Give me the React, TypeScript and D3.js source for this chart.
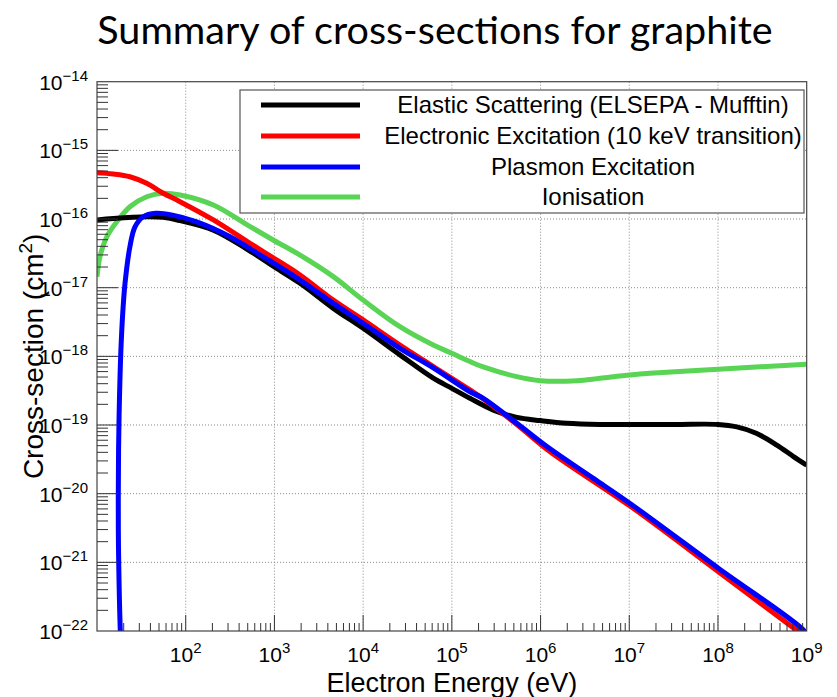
import React from "react";
import * as d3 from "d3";

const W = 837;
const H = 697;

const titleText = "Summary of cross-sections for graphite";
const xTitle = "Electron Energy (eV)";
const yTitle = "Cross-section (cm";

const xDecades = [10, 100, 1e3, 1e4, 1e5, 1e6, 1e7, 1e8, 1e9];
const xTickLabels = ["", "2", "3", "4", "5", "6", "7", "8", "9"];
const yDecades = [1e-22, 1e-21, 1e-20, 1e-19, 1e-18, 1e-17, 1e-16, 1e-15, 1e-14];
const yTickLabels = ["−22", "−21", "−20", "−19", "−18", "−17", "−16", "−15", "−14"];

const seriesNames = [
  "Elastic Scattering (ELSEPA - Mufftin)",
  "Electronic Excitation (10 keV transition)",
  "Plasmon Excitation",
  "Ionisation",
];
const seriesColors = ["#000000", "#ff0000", "#0000ff", "#59d454"];

// Elastic scattering (black)
const energyElastic = [10, 15.3, 36.3, 55.8, 86.3, 205, 488, 989, 1945, 4613, 1.0e4, 2.6e4, 6.18e4, 1.0e5, 1.6e5, 2.94e5, 5.4e5, 1.0e6, 1.97e6, 4.7e6, 3.2e7, 1.0e8, 1.63e8, 2.7e8, 4.6e8, 7.1e8, 1.0e9];
const sigmaElastic = [9.7e-17, 1.02e-16, 1.08e-16, 1.06e-16, 9.46e-17, 6.9e-17, 3.66e-17, 2.02e-17, 1.16e-17, 5.0e-18, 2.56e-18, 1.05e-18, 4.8e-19, 3.42e-19, 2.45e-19, 1.65e-19, 1.29e-19, 1.16e-19, 1.06e-19, 1.02e-19, 1.02e-19, 1.02e-19, 9.4e-20, 7.6e-20, 5.1e-20, 3.47e-20, 2.6e-20];

// Electronic excitation (red)
const energyExcitation = [10, 15.3, 23.5, 36.3, 55.8, 86.3, 205, 531, 989, 1945, 4613, 1.0e4, 2.6e4, 6.18e4, 1.6e5, 2.26e5, 5.4e5, 1.28e6, 1.02e7, 1.01e8, 8.05e8, 1.0e9];
const sigmaExcitation = [4.73e-16, 4.53e-16, 4.13e-16, 3.31e-16, 2.37e-16, 1.79e-16, 9.7e-17, 4.43e-17, 2.68e-17, 1.53e-17, 6.6e-18, 3.39e-18, 1.46e-18, 7.1e-19, 3.24e-19, 2.4e-19, 1.02e-19, 4.08e-20, 6.6e-21, 7.3e-22, 9.8e-23, 8.0e-23];

// Plasmon excitation (blue)
const energyPlasmon = [18.4, 17.9, 17.4, 17.5, 17.9, 18.6, 19.6, 20.7, 23.5, 26.8, 33.2, 46, 69, 133, 316, 750, 989, 1945, 4613, 1.0e4, 2.6e4, 6.18e4, 1.6e5, 2.26e5, 5.4e5, 1.28e6, 3.94e6, 1.02e7, 1.01e8, 9.2e8, 1.0e9];
const sigmaPlasmon = [8e-23, 2.8e-22, 2.9e-21, 4.3e-20, 2.3e-19, 1.24e-18, 4.7e-18, 1.16e-17, 3.96e-17, 7.7e-17, 1.08e-16, 1.21e-16, 1.15e-16, 9.1e-17, 5.53e-17, 2.8e-17, 2.26e-17, 1.29e-17, 5.9e-18, 3.03e-18, 1.31e-18, 6.8e-19, 3.05e-19, 2.45e-19, 1.06e-19, 4.5e-20, 1.67e-20, 7.2e-21, 8.2e-22, 1.03e-22, 8.5e-23];

// Ionisation (green)
const energyIonisation = [10, 10.8, 12.9, 16.7, 23.5, 36.3, 55.8, 86.3, 205, 488, 989, 1945, 4613, 1.0e4, 2.6e4, 6.18e4, 1.0e5, 1.6e5, 2.26e5, 5.4e5, 1.0e6, 2.56e6, 4.7e6, 1.02e7, 1.71e7, 1.01e8, 1.0e9];
const sigmaIonisation = [1.44e-17, 2.83e-17, 5.5e-17, 9.1e-17, 1.51e-16, 2.11e-16, 2.37e-16, 2.24e-16, 1.6e-16, 8.3e-17, 4.87e-17, 2.99e-17, 1.45e-17, 6.6e-18, 2.7e-18, 1.46e-18, 1.11e-18, 8.4e-19, 7.0e-19, 5.06e-19, 4.42e-19, 4.42e-19, 4.8e-19, 5.35e-19, 5.66e-19, 6.5e-19, 7.7e-19];

const seriesEnergies = [energyElastic, energyExcitation, energyPlasmon, energyIonisation];
const seriesSigmas = [sigmaElastic, sigmaExcitation, sigmaPlasmon, sigmaIonisation];

const M = { left: 97, right: 806.7, top: 81.7, bottom: 631 };
const AXIS_FONT = "'Liberation Sans', Arial, Helvetica, sans-serif";

export default function App() {
  const x = d3.scaleLog().domain([10, 1e9]).range([M.left, M.right]);
  const y = d3.scaleLog().domain([1e-22, 1e-14]).range([M.bottom, M.top]);

  const line = d3
    .line<[number, number]>()
    .x((d) => x(d[0]))
    .y((d) => y(d[1]))
    .curve(d3.curveCatmullRom.alpha(0.5));

  const xMinor: number[] = [];
  for (let i = 0; i < xDecades.length - 1; i++) {
    for (let k = 2; k <= 9; k++) xMinor.push(xDecades[i] * k);
  }
  const yMinor: number[] = [];
  for (let i = 0; i < yDecades.length - 1; i++) {
    for (let k = 2; k <= 9; k++) yMinor.push(yDecades[i] * k);
  }

  const drawOrder = [3, 0, 1, 2];

  const legend = { x0: 240, y0: 90, x1: 804, y1: 213, lineX0: 261, lineX1: 360, textX: 593, rowY: [105, 136, 167, 197] };

  return (
    <div style={{ position: "absolute", left: 0, top: 0 }}>
      <svg width={W} height={H} style={{ display: "block", background: "#fff" }}>
        <defs>
          <clipPath id="plotClip">
            <rect x={M.left} y={M.top} width={M.right - M.left} height={M.bottom - M.top} />
          </clipPath>
        </defs>
        <rect x={0} y={0} width={W} height={H} fill="#fff" />

        <text x={435} y={44} textAnchor="middle" fontFamily="Lato, 'Open Sans', sans-serif" fontSize={39.5} fill="#000">
          {titleText}
        </text>

        {/* grid */}
        <g stroke="#8a8a8a" strokeWidth={1} strokeDasharray="1,2">
          {xDecades.slice(1, -1).map((d, i) => (
            <line key={"gx" + i} x1={x(d)} x2={x(d)} y1={M.top} y2={M.bottom} />
          ))}
          {yDecades.slice(1, -1).map((d, i) => (
            <line key={"gy" + i} x1={M.left} x2={M.right} y1={y(d)} y2={y(d)} />
          ))}
        </g>

        {/* series */}
        <g clipPath="url(#plotClip)" fill="none" strokeWidth={5} strokeLinejoin="round">
          {drawOrder.map((si) => {
            const pts: [number, number][] = seriesEnergies[si].map((e, j) => [e, seriesSigmas[si][j]]);
            return <path key={"s" + si} d={line(pts) || ""} stroke={seriesColors[si]} />;
          })}
        </g>

        {/* frame */}
        <rect x={M.left} y={M.top} width={M.right - M.left} height={M.bottom - M.top} fill="none" stroke="#444" strokeWidth={1.2} />

        {/* ticks */}
        <g stroke="#333" strokeWidth={1}>
          {xDecades.slice(1, -1).map((d, i) => (
            <line key={"xt" + i} x1={x(d)} x2={x(d)} y1={M.bottom} y2={M.bottom - 16} />
          ))}
          {xMinor.map((d, i) => (
            <line key={"xm" + i} x1={x(d)} x2={x(d)} y1={M.bottom} y2={M.bottom - 8} />
          ))}
          {yDecades.slice(1, -1).map((d, i) => (
            <line key={"yt" + i} x1={M.left} x2={M.left + 21} y1={y(d)} y2={y(d)} />
          ))}
          {yMinor.map((d, i) => (
            <line key={"ym" + i} x1={M.left} x2={M.left + 11} y1={y(d)} y2={y(d)} />
          ))}
        </g>

        {/* tick labels */}
        <g fontFamily={AXIS_FONT} fill="#000">
          {xDecades.map((d, i) =>
            xTickLabels[i] ? (
              <text key={"xl" + i} x={x(d)} y={662} textAnchor="middle" fontSize={21}>
                10
                <tspan fontSize={15} dy={-9}>{xTickLabels[i]}</tspan>
              </text>
            ) : null
          )}
          {yDecades.map((d, i) => (
            <text key={"yl" + i} x={88} y={y(d) + 8} textAnchor="end" fontSize={21}>
              10
              <tspan fontSize={15} dy={-9}>{yTickLabels[i]}</tspan>
            </text>
          ))}
        </g>

        {/* axis titles */}
        <text x={(M.left + M.right) / 2} y={691.5} textAnchor="middle" fontFamily={AXIS_FONT} fontSize={27} fill="#000">
          {xTitle}
        </text>
        <text
          transform={`translate(43, ${(M.top + M.bottom) / 2}) rotate(-90)`}
          textAnchor="middle"
          fontFamily={AXIS_FONT}
          fontSize={28}
          fill="#000"
        >
          {yTitle}
          <tspan fontSize={19} dy={-11}>2</tspan>
          <tspan dy={11}>)</tspan>
        </text>

        {/* legend */}
        <rect x={legend.x0} y={legend.y0} width={legend.x1 - legend.x0} height={legend.y1 - legend.y0} fill="#fff" stroke="#555" strokeWidth={1.2} />
        {seriesNames.map((name, i) => (
          <g key={"lg" + i}>
            <line x1={legend.lineX0} x2={legend.lineX1} y1={legend.rowY[i]} y2={legend.rowY[i]} stroke={seriesColors[i]} strokeWidth={5} />
            <text x={legend.textX} y={legend.rowY[i] + 8} textAnchor="middle" fontFamily={AXIS_FONT} fontSize={24} fill="#000">
              {name}
            </text>
          </g>
        ))}
      </svg>
    </div>
  );
}
